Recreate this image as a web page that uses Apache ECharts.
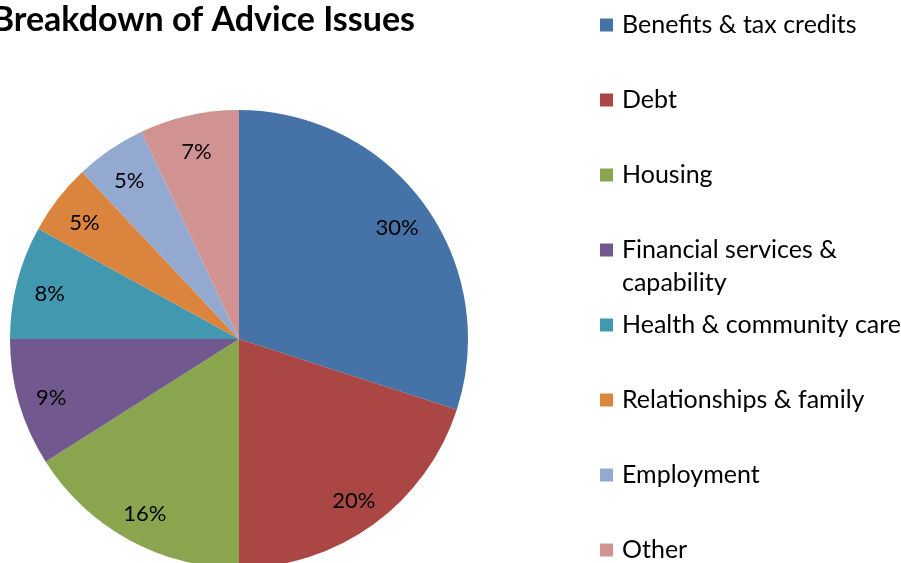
<!DOCTYPE html>
<html>
<head>
<meta charset="utf-8">
<script src="https://cdn.jsdelivr.net/npm/echarts@6/dist/echarts.min.js"></script>
<style>
  html, body { margin: 0; padding: 0; background: #ffffff; }
  #chart { width: 901px; height: 563px; }
</style>
</head>
<body>
<div id="chart"></div>
<script>
// Advice issue categories and their share of all advice (percent)
const categories = [
  'Benefits & tax credits',
  'Debt',
  'Housing',
  'Financial services & capability',
  'Health & community care',
  'Relationships & family',
  'Employment',
  'Other'
];
const shares = [30, 20, 16, 9, 8, 5, 5, 7];
const sliceColors = ['#4572A7', '#AA4643', '#89A54E', '#71588F', '#4198AF', '#DB843D', '#93A9CF', '#D19392'];

const FONT = 'Lato, "Open Sans", sans-serif';
const pieCenter = [239, 339];
const pieRadius = 229;

const pieData = categories.map((name, i) => ({
  name: name,
  value: shares[i],
  itemStyle: { color: sliceColors[i] }
}));

// One legend block per entry so every entry keeps an even slot
const legendSlotTop = 25;
const legendSlotGap = 75;
const lineH = 33;
const legendFontSize = 25;
const legends = categories.map((name, i) => {
  const twoLine = name === 'Financial services & capability';
  const boxH = twoLine ? lineH * 3 : lineH;
  return {
    show: true,
    orient: 'vertical',
    left: 600,
    top: legendSlotTop + i * legendSlotGap - boxH / 2,
    padding: 0,
    itemWidth: 13,
    itemHeight: 13,
    itemGap: 0,
    icon: 'rect',
    selectedMode: false,
    data: [name],
    formatter: twoLine
      ? () => '{gap| }\n{t|Financial services &}\n{t|capability}'
      : '{name}',
    textStyle: {
      fontFamily: FONT,
      fontSize: legendFontSize,
      color: '#000000',
      lineHeight: lineH,
      padding: [0, 0, 0, 4],
      rich: {
        gap: { fontFamily: FONT, fontSize: legendFontSize, lineHeight: lineH },
        t: { fontFamily: FONT, fontSize: legendFontSize, lineHeight: lineH, color: '#000000' }
      }
    }
  };
});

const chart = echarts.init(document.getElementById('chart'), null, { renderer: 'canvas' });
chart.setOption({
  backgroundColor: '#ffffff',
  animation: false,
  title: {
    text: 'Breakdown of Advice Issues',
    right: 486,
    top: 0,
    padding: 0,
    textStyle: {
      fontFamily: FONT,
      fontWeight: 'bold',
      fontSize: 34,
      lineHeight: 40,
      color: '#000000'
    }
  },
  legend: legends,
  series: [
    {
      // the visible slices
      type: 'pie',
      center: pieCenter,
      radius: pieRadius,
      startAngle: 90,
      clockwise: true,
      silent: true,
      label: { show: false },
      labelLine: { show: false },
      itemStyle: { borderWidth: 0 },
      emphasis: { disabled: true },
      data: pieData
    },
    {
      // transparent ring that carries the percentage labels near the rim
      type: 'pie',
      center: pieCenter,
      radius: [156, pieRadius],
      startAngle: 90,
      clockwise: true,
      silent: true,
      avoidLabelOverlap: false,
      itemStyle: { color: 'rgba(0,0,0,0)', borderWidth: 0 },
      label: {
        show: true,
        position: 'inside',
        formatter: '{c}%',
        fontFamily: FONT,
        fontSize: 22,
        offset: [0, 4],
        color: '#000000'
      },
      labelLine: { show: false },
      emphasis: { disabled: true },
      data: categories.map((name, i) => ({ name: name, value: shares[i] }))
    }
  ]
});
</script>
</body>
</html>
